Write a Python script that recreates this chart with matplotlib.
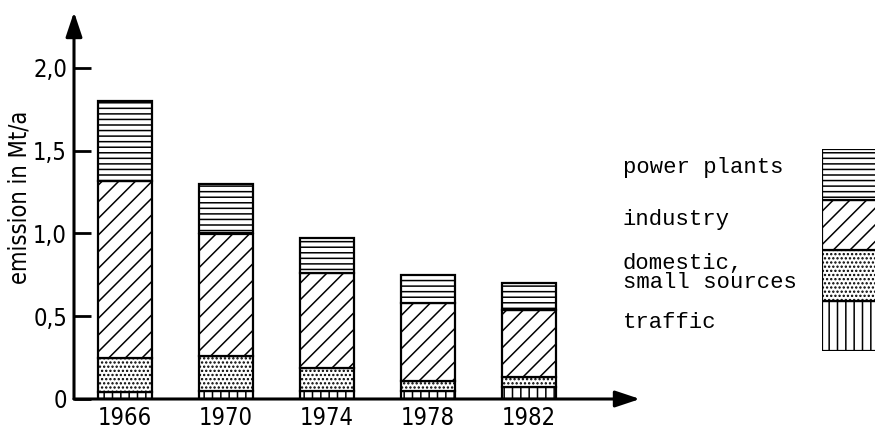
import numpy as np
import matplotlib.pyplot as plt

years = ['1966', '1970', '1974', '1978', '1982']
traffic = [0.04, 0.05, 0.05, 0.05, 0.07]
domestic = [0.21, 0.21, 0.14, 0.06, 0.06]
industry = [1.07, 0.74, 0.57, 0.47, 0.41]
power = [0.48, 0.30, 0.21, 0.17, 0.16]

labels = ['traffic', 'domestic,\nsmall sources', 'industry', 'power plants']
hatches = ['||', '....', '//', '---']
series = [traffic, domestic, industry, power]

ytick_vals = [0, 0.5, 1.0, 1.5, 2.0]
ytick_labels = ['0', '0,5', '1,0', '1,5', '2,0']

plt.rcParams['hatch.linewidth'] = 1.1
mono = ['Liberation Mono', 'DejaVu Sans Mono']
narrow = dict(family='DejaVu Sans', fontstretch='condensed')

W, H = 875, 432
fig = plt.figure(figsize=(W / 100, H / 100), dpi=100)

# main axes, placed in pixel terms
x0, x1, y0, y1 = 74, 640, 399, 12
ax = fig.add_axes([x0 / W, (H - y0) / H, (x1 - x0) / W, (y0 - y1) / H])
ax.set_ylim(0, (y0 - y1) / 165.5)
xmin = -(125 - x0) / 101
ax.set_xlim(xmin, xmin + (x1 - x0) / 101)

x = np.arange(len(years))
bottom = np.zeros(len(years))
for vals, h in zip(series, hatches):
    ax.bar(x, vals, width=0.53, bottom=bottom, color='white', edgecolor='black',
           linewidth=1.6, hatch=h)
    bottom += np.array(vals)

for s in ['top', 'right', 'left', 'bottom']:
    ax.spines[s].set_visible(False)
ax.set_yticks(ytick_vals)
ax.set_yticklabels(ytick_labels, fontsize=17, **narrow)
ax.set_xticks(x)
ax.set_xticklabels(years, fontsize=17, **narrow)
ax.tick_params(axis='y', direction='in', length=12, width=2, pad=5)
ax.tick_params(axis='x', length=0, pad=5)
ax.set_ylabel('emission in Mt/a', fontsize=17, **narrow)
ax.yaxis.set_label_coords(-42 / 566, (399 - 197) / 387)

# axis lines with arrow heads
arrow = dict(arrowstyle='-|>,head_length=0.75,head_width=0.25', color='black',
             lw=2.2, mutation_scale=20, shrinkA=0, shrinkB=0)
ax.annotate('', xy=(0, 1.0), xytext=(0, 0), xycoords='axes fraction',
            arrowprops=arrow, annotation_clip=False)
ax.annotate('', xy=(1.0, 0), xytext=(0, 0), xycoords='axes fraction',
            arrowprops=arrow, annotation_clip=False)

# legend box, cut off at the right edge
lx0, lx1, ly0, ly1 = 822, 900, 351, 149
lax = fig.add_axes([lx0 / W, (H - ly0) / H, (lx1 - lx0) / W, (ly0 - ly1) / H])
for i, h in enumerate(hatches):
    lax.bar(0.5, 1, width=1, bottom=i, color='white', edgecolor='black',
            linewidth=1.6, hatch=h)
lax.set_xlim(0, 1)
lax.set_ylim(0, 4)
lax.axis('off')

text_y = [323, 273, 220, 167]
for lab, ty in zip(labels, text_y):
    fig.text(623 / W, (H - ty) / H, lab, family=mono, fontsize=16,
             va='center', ha='left', linespacing=0.92)

fig.savefig('out.png', dpi=100)
